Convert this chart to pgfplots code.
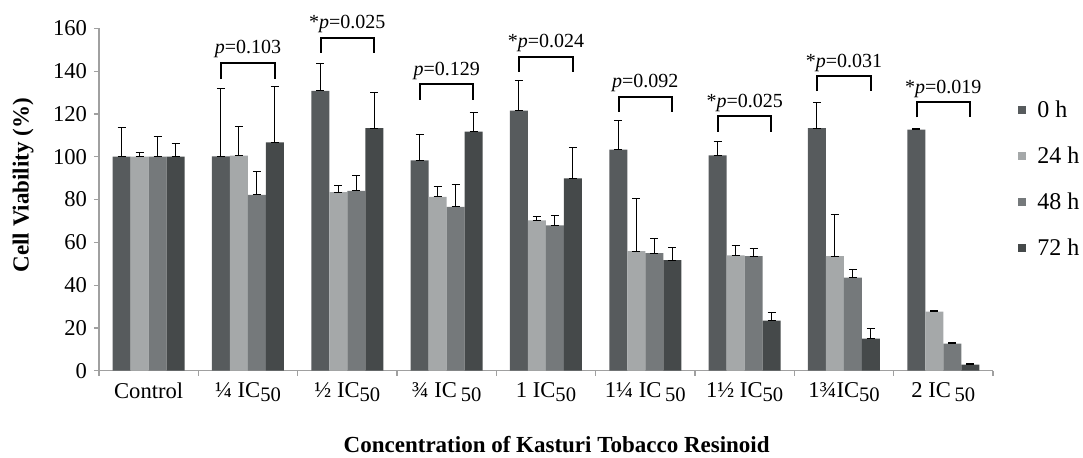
\documentclass[border=0pt]{standalone}
\usepackage{pgfplots}
\pgfplotsset{compat=1.18}
\usepackage{pgfplotstable}
\usepackage{fontspec}
\setmainfont{Liberation Serif}
\definecolor{c0}{HTML}{575B5D}
\definecolor{c1}{HTML}{A5A8A9}
\definecolor{c2}{HTML}{75797B}
\definecolor{c3}{HTML}{45494A}
\definecolor{axgray}{HTML}{A0A0A0}
\pgfplotstableread{
x v0 e0 v1 e1 v2 e2 v3 e3 z
0 100 13.5 100 2 100 9.5 100 6 0
1 100.2 31.5 100.5 13.5 82.2 10.8 106.7 26.3 0
2 130.8 12.8 83.4 3.2 84 7 113.3 16.6 0
3 98.3 12 81.2 4.8 76.5 10.7 111.7 8.9 0
4 121.5 14 70.3 1.7 67.9 4.5 89.9 14.5 0
5 103.3 13.5 55.9 24.7 54.9 6.8 51.7 5.8 0
6 100.6 6.4 53.9 4.5 53.6 3.6 23.4 3.9 0
7 113.3 11.8 53.6 19.5 43.5 4 15 4.5 0
8 112.6 0.5 27.6 0.5 12.6 0.4 2.8 0.4 0
}\datatable
\newcommand{\sub}{\raisebox{-0.17em}{\fontsize{10.3}{12}\selectfont 50}}
\newcommand{\IC}{IC\sub}
\newcommand{\ICs}{IC\,\sub}
\newcommand{\plab}{\fontsize{10}{12}\selectfont}
\begin{document}
\begin{tikzpicture}
\useasboundingbox (0,0) rectangle (541.5pt,228.5pt);
\begin{axis}[
  at={(49.5pt,43.15pt)}, anchor=south west,
  scale only axis, width=447pt, height=171.2pt,
  ybar=0pt, bar width=9pt,
  xmin=-0.5, xmax=8.5, ymin=0, ymax=160,
  clip=false,
  axis x line*=bottom, axis y line*=left,
  axis line style={draw=axgray, line width=0.6pt},
  tick align=outside,
  xtick={0,...,8},
  xticklabels={{Control},{¼ \IC},{½ \IC},{¾ \ICs},{1 \IC},{1¼ \ICs},{1½ \IC},{1¾\IC},{2 \ICs}},
  major x tick style={draw=none},
  minor xtick={-0.5,0.5,...,8.5},
  minor tick length=2.5pt,
  minor x tick style={draw=axgray, line width=0.6pt},
  ytick={0,20,...,160},
  major tick length=2.5pt,
  major y tick style={draw=axgray, line width=0.6pt},
  tick label style={font=\fontsize{11.3}{13}\selectfont},
  /pgf/number format/assume math mode=true,
  ylabel={Cell Viability (\%)},
  ylabel style={font=\bfseries\fontsize{11.5}{13}\selectfont, at={(axis description cs:-0.085,0.542)}, anchor=center},
  xlabel={Concentration of Kasturi Tobacco Resinoid},
  xlabel style={font=\bfseries\fontsize{11.5}{13}\selectfont, at={(axis description cs:0.512,-0.217)}, anchor=center},
  legend image code/.code={\fill[#1] (0pt,-2pt) rectangle (4pt,2pt);},
  legend style={at={(axis description cs:1.028,0.559)}, anchor=west, draw=none, fill=none,
    font=\fontsize{12}{14}\selectfont, row sep=11.2pt, inner sep=0pt, nodes={inner sep=1pt},
    /tikz/every odd column/.append style={column sep=4.5pt}},
  legend cell align=left,
]
\addplot[fill=c0, draw=none, error bars/.cd, y dir=both, y explicit,
  error bar style={draw=black, line width=0.5pt},
  error mark options={rotate=90, mark size=2pt, draw=black, line width=0.5pt}]
  table[x=x, y=v0, y error plus=e0, y error minus=z] {\datatable};
\addplot[fill=c1, draw=none, error bars/.cd, y dir=both, y explicit,
  error bar style={draw=black, line width=0.5pt},
  error mark options={rotate=90, mark size=2pt, draw=black, line width=0.5pt}]
  table[x=x, y=v1, y error plus=e1, y error minus=z] {\datatable};
\addplot[fill=c2, draw=none, error bars/.cd, y dir=both, y explicit,
  error bar style={draw=black, line width=0.5pt},
  error mark options={rotate=90, mark size=2pt, draw=black, line width=0.5pt}]
  table[x=x, y=v2, y error plus=e2, y error minus=z] {\datatable};
\addplot[fill=c3, draw=none, error bars/.cd, y dir=both, y explicit,
  error bar style={draw=black, line width=0.5pt},
  error mark options={rotate=90, mark size=2pt, draw=black, line width=0.5pt}]
  table[x=x, y=v3, y error plus=e3, y error minus=z] {\datatable};
\legend{0 h,24 h,48 h,72 h}
% significance brackets
\addplot[sharp plot, black, line width=1pt, mark=none, forget plot] coordinates {(0.731,136.3) (0.731,144) (1.269,144) (1.269,136.3)};
\addplot[sharp plot, black, line width=1pt, mark=none, forget plot] coordinates {(1.731,148.6) (1.731,155.6) (2.269,155.6) (2.269,148.6)};
\addplot[sharp plot, black, line width=1pt, mark=none, forget plot] coordinates {(2.731,126.5) (2.731,133.8) (3.269,133.8) (3.269,126.5)};
\addplot[sharp plot, black, line width=1pt, mark=none, forget plot] coordinates {(3.731,139.7) (3.731,146.7) (4.269,146.7) (4.269,139.7)};
\addplot[sharp plot, black, line width=1pt, mark=none, forget plot] coordinates {(4.731,121) (4.731,128) (5.269,128) (5.269,121)};
\addplot[sharp plot, black, line width=1pt, mark=none, forget plot] coordinates {(5.731,111.7) (5.731,119) (6.269,119) (6.269,111.7)};
\addplot[sharp plot, black, line width=1pt, mark=none, forget plot] coordinates {(6.731,130.7) (6.731,137.7) (7.269,137.7) (7.269,130.7)};
\addplot[sharp plot, black, line width=1pt, mark=none, forget plot] coordinates {(7.731,118.4) (7.731,125.4) (8.269,125.4) (8.269,118.4)};
\node[anchor=base, yshift=4.5pt, font=\plab] at (axis cs:1,144) {\textit{p}=0.103};
\node[anchor=base, yshift=4.5pt, font=\plab] at (axis cs:2,155.6) {*\textit{p}=0.025};
\node[anchor=base, yshift=4.5pt, font=\plab] at (axis cs:3,133.8) {\textit{p}=0.129};
\node[anchor=base, yshift=4.5pt, font=\plab] at (axis cs:4,146.7) {*\textit{p}=0.024};
\node[anchor=base, yshift=4.5pt, font=\plab] at (axis cs:5,128) {\textit{p}=0.092};
\node[anchor=base, yshift=4.5pt, font=\plab] at (axis cs:6,119) {*\textit{p}=0.025};
\node[anchor=base, yshift=4.5pt, font=\plab] at (axis cs:7,137.7) {*\textit{p}=0.031};
\node[anchor=base, yshift=4.5pt, font=\plab] at (axis cs:8,125.4) {*\textit{p}=0.019};
\end{axis}
\end{tikzpicture}
\end{document}
